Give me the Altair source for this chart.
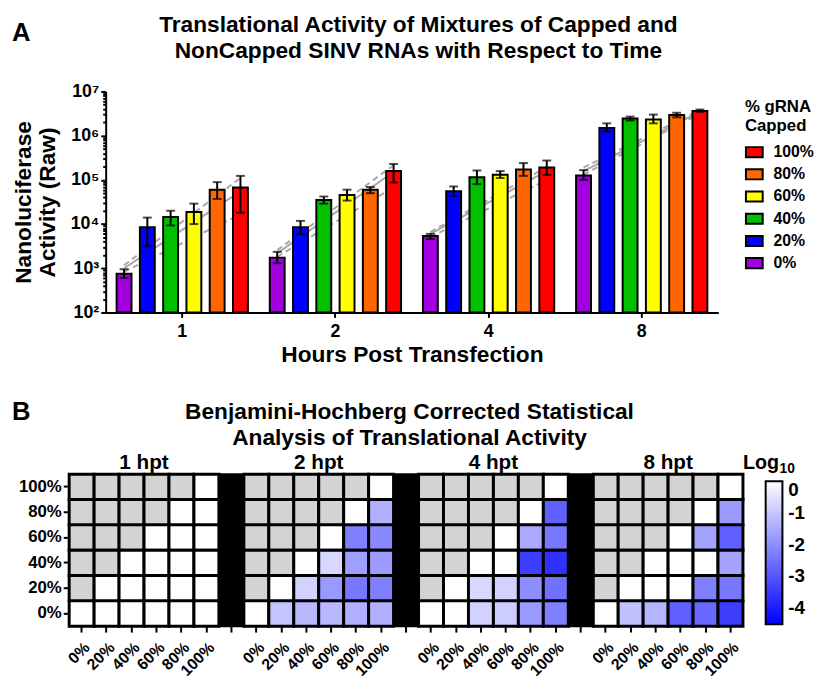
import altair as alt
import pandas as pd

FONT = "Liberation Sans"

# ---------------- data: panel A ----------------
hours = ["1", "2", "4", "8"]
capped = ["0%", "20%", "40%", "60%", "80%", "100%"]
bar_colors = ["#a300e0", "#0000ff", "#00c000", "#ffff00", "#ff6600", "#ff0000"]

mean_1h = [750, 8500, 14500, 18700, 60000, 67000]
lo_1h = [600, 3100, 9300, 10000, 37000, 18000]
hi_1h = [950, 14000, 20000, 29000, 89000, 123000]

mean_2h = [1740, 8500, 35000, 45500, 60000, 158000]
lo_2h = [1300, 5900, 29000, 34000, 50000, 87000]
hi_2h = [2350, 11800, 42000, 60000, 69000, 229000]

mean_4h = [5400, 55000, 115000, 131000, 172000, 191000]
lo_4h = [4600, 43000, 80000, 110000, 123000, 129000]
hi_4h = [6000, 71000, 163000, 158000, 240000, 274000]

mean_8h = [126000, 1500000, 2450000, 2330000, 2950000, 3600000]
lo_8h = [100000, 1230000, 2200000, 1900000, 2600000, 3450000]
hi_8h = [166000, 1900000, 2700000, 3000000, 3300000, 3900000]

# fitted trend (solid) and its band (dashed), value at 0% and at 100%
fit_start = [1000, 2190, 6000, 158000]
fit_end = [55000, 151000, 158000, 3470000]
band_hi_start = [1170, 2570, 6600, 190000]
band_hi_end = [110000, 214000, 195000, 3800000]
band_lo_start = [830, 1820, 5100, 132000]
band_lo_end = [16600, 67600, 100000, 3160000]

title_a = ["Translational Activity of Mixtures of Capped and",
           "NonCapped SINV RNAs with Respect to Time"]

# ---------------- data: panel B (log10 adjusted p), None = not tested ----------------
rows_top_down = ["100%", "80%", "60%", "40%", "20%", "0%"]
N = None
hm_1h = [
    [N, N, N, N, N, 0],
    [N, N, N, N, 0, 0],
    [N, N, N, 0, 0, 0],
    [N, N, 0, 0, 0, 0],
    [N, 0, 0, 0, 0, 0],
    [0, 0, 0, 0, 0, 0],
]
hm_2h = [
    [N, N, N, N, N, 0],
    [N, N, N, N, 0, -1.4],
    [N, N, N, 0, -2.25, -2.1],
    [N, N, 0, -0.7, -1.7, -1.75],
    [N, 0, -0.8, -1.8, -2.4, -2.25],
    [0, -1.05, -1.25, -1.25, -1.4, -1.4],
]
hm_4h = [
    [N, N, N, N, N, 0],
    [N, N, N, N, 0, -2.8],
    [N, N, N, 0, -1.5, -2.4],
    [N, N, 0, 0, -3.4, -3.65],
    [N, 0, -0.7, -0.8, -2.0, -2.5],
    [0, 0, -0.8, -0.9, -1.8, -2.25],
]
hm_8h = [
    [N, N, N, N, N, 0],
    [N, N, N, N, 0, -1.75],
    [N, N, N, 0, -1.6, -2.8],
    [N, N, 0, 0, 0, -1.6],
    [N, 0, 0, 0, -2.25, -2.4],
    [0, -1.1, -1.3, -2.8, -2.65, -3.4],
]
hpt_labels = ["1 hpt", "2 hpt", "4 hpt", "8 hpt"]
title_b = ["Benjamini-Hochberg Corrected Statistical", "Analysis of Translational Activity"]

# ---------------- tables ----------------
means = [mean_1h, mean_2h, mean_4h, mean_8h]
los = [lo_1h, lo_2h, lo_4h, lo_8h]
his = [hi_1h, hi_2h, hi_4h, hi_8h]
bars = pd.DataFrame([
    dict(hour=h, capped=c, value=means[i][j], lo=los[i][j], hi=his[i][j])
    for i, h in enumerate(hours) for j, c in enumerate(capped)
])

line_rows = []
for i, h in enumerate(hours):
    for kind, s, e in [("fit", fit_start, fit_end), ("hi", band_hi_start, band_hi_end),
                       ("lo", band_lo_start, band_lo_end)]:
        line_rows.append(dict(hour=h, capped="0%", kind=kind, value=s[i]))
        line_rows.append(dict(hour=h, capped="100%", kind=kind, value=e[i]))
lines = pd.DataFrame(line_rows)

col_keys = []
for i, h in enumerate(hours):
    if i > 0:
        col_keys.append(f"sep{h}|")
    for c in capped:
        col_keys.append(f"{h}|{c}")
sep_keys = [k for k in col_keys if k.startswith("sep")]

hm_rows = []
for h, mat in zip(hours, [hm_1h, hm_2h, hm_4h, hm_8h]):
    for r, rl in enumerate(rows_top_down):
        for ci, c in enumerate(capped):
            v = mat[r][ci]
            hm_rows.append(dict(key=f"{h}|{c}", row=rl, value=v, gray=v is None))
hm = pd.DataFrame(hm_rows)
seps = pd.DataFrame({"key": sep_keys})
panel_lab = pd.DataFrame({"key": [f"{h}|40%" for h in hours], "label": hpt_labels})


def text_layer(txt, x, y, size, align="center", baseline="middle"):
    return alt.Chart(pd.DataFrame({"t": [txt]})).mark_text(
        fontSize=size, fontWeight="bold", align=align, baseline=baseline, color="black"
    ).encode(x=alt.value(x), y=alt.value(y), text="t:N")


# ---------------- panel A ----------------
TW, TH = 658, 224
x_enc = alt.X("hour:N", sort=hours,
              scale=alt.Scale(domain=hours, range=[37, TW], paddingInner=0, paddingOuter=0),
              axis=alt.Axis(title="Hours Post Transfection", labelAngle=0, labelFontSize=18,
                            labelFontWeight="bold", titleFontSize=23, titleFontWeight="bold",
                            tickSize=5, tickWidth=2, tickColor="black", domainColor="black",
                            domainWidth=2, labelPadding=5, titlePadding=4, labelColor="black",
                            titleColor="black"))
xo = alt.XOffset("capped:N", sort=capped,
                 scale=alt.Scale(domain=capped, paddingInner=0.36, paddingOuter=0.47))

major = [10 ** e for e in range(2, 8)]
minor = [k * 10 ** e for e in range(2, 7) for k in range(2, 10)]
is_major = "abs(log(datum.value)/LN10 - round(log(datum.value)/LN10)) < 0.01"
y_axis = alt.Axis(
    values=sorted(major + minor),
    labelExpr=is_major + " ? '10' + ['⁰','¹','²','³','⁴','⁵','⁶','⁷'][round(log(datum.value)/LN10)] : ''",
    tickSize={"condition": {"test": is_major, "value": 5}, "value": 3},
    tickWidth=2, tickColor="black", domainColor="black", domainWidth=2,
    offset=-37, grid=False, labelFontSize=18, labelFontWeight="bold", labelPadding=2,
    title=["Nanoluciferase", "Activity (Raw)"], titleFontSize=23, titleFontWeight="bold",
    titleLineHeight=24, titlePadding=11, labelColor="black", titleColor="black",
    labelOverlap=False,
)
y_scale = alt.Scale(type="log", domain=[100, 1e7])

trend = alt.Chart(lines).mark_line(strokeWidth=2, color="#a8a8a8").encode(
    x=x_enc, xOffset=xo,
    y=alt.Y("value:Q", scale=y_scale, axis=y_axis, stack=None),
    detail="hour:N",
    strokeDash=alt.StrokeDash("kind:N", scale=alt.Scale(domain=["fit", "hi", "lo"],
                              range=[[1, 0], [6, 4], [6, 4]]), legend=None),
)
bar = alt.Chart(bars).mark_bar(stroke="black", strokeWidth=2).encode(
    x=x_enc, xOffset=xo,
    y=alt.Y("value:Q", scale=y_scale, axis=y_axis, stack=None),
    y2=alt.value(TH),
    color=alt.Color("capped:N", scale=alt.Scale(domain=capped[::-1], range=bar_colors[::-1]),
                    legend=alt.Legend(title=["% gRNA", "Capped"], orient="none", legendX=685,
                                      legendY=8, symbolType="M-1,-0.6H1V0.6H-1Z", symbolSize=289,
                                      symbolStrokeColor="black", symbolStrokeWidth=2,
                                      symbolOpacity=1, labelFontSize=16, labelFontWeight="bold",
                                      titleFontSize=17, titleFontWeight="bold", titlePadding=8,
                                      labelOffset=10, rowPadding=3.5, labelColor="black",
                                      titleColor="black", titleLimit=200)),
)
err = alt.Chart(bars).mark_rule(color="black", strokeWidth=2).encode(
    x=x_enc, xOffset=xo, y=alt.Y("lo:Q", scale=y_scale, axis=y_axis), y2="hi:Q")
cap_lo = alt.Chart(bars).mark_tick(color="black", thickness=2, size=9).encode(
    x=x_enc, xOffset=xo, y=alt.Y("lo:Q", scale=y_scale, axis=y_axis, stack=None))
cap_hi = alt.Chart(bars).mark_tick(color="black", thickness=2, size=9).encode(
    x=x_enc, xOffset=xo, y=alt.Y("hi:Q", scale=y_scale, axis=y_axis, stack=None))

top = alt.layer(
    trend, bar, err, cap_lo, cap_hi,
    text_layer("A", -58, -59, 26, align="left"),
    text_layer(title_a[0], 354, -67, 23),
    text_layer(title_a[1], 354, -41, 23),
).properties(width=TW, height=TH)

# ---------------- panel B ----------------
HW, HH = 683, 154
hx = alt.X("key:N", sort=col_keys, scale=alt.Scale(domain=col_keys, paddingInner=0, paddingOuter=0),
           axis=alt.Axis(title=None, labelExpr="split(datum.value, '|')[1]", labelAngle=-45,
                         labelFontSize=16, labelFontWeight="bold", labelColor="black",
                         tickSize=6, tickWidth=2, tickColor="black", domain=False,
                         labelPadding=7, labelOverlap=False))
hy = alt.Y("row:N", sort=rows_top_down,
           scale=alt.Scale(domain=rows_top_down, paddingInner=0, paddingOuter=0),
           axis=alt.Axis(title=None, labelFontSize=17, labelFontWeight="bold", labelColor="black",
                         tickSize=6, tickWidth=2, tickColor="black", domain=False, labelPadding=2))

gray_cells = alt.Chart(hm).transform_filter("datum.gray").mark_rect(
    fill="#d3d3d3", stroke="black", strokeWidth=3).encode(x=hx, y=hy)
val_cells = alt.Chart(hm).transform_filter("!datum.gray").mark_rect(
    stroke="black", strokeWidth=3).encode(
    x=hx, y=hy,
    color=alt.Color("value:Q",
                    scale=alt.Scale(domain=[-4.5, 0], range=["#0000ff", "#ffffff"], interpolate="rgb"),
                    legend=alt.Legend(title=None, orient="none", legendX=706, legendY=7,
                                      direction="vertical", gradientLength=145,
                                      gradientThickness=17, gradientStrokeColor="black",
                                      gradientStrokeWidth=2, values=[0, -1, -2, -3, -4],
                                      labelExpr="(datum.value < 0 ? '-' : '') + abs(datum.value)",
                                      labelFontSize=19, labelFontWeight="bold", labelColor="black",
                                      labelOffset=6, labelOverlap=False)),
)
sep_cells = alt.Chart(seps).mark_rect(fill="black", stroke="black", strokeWidth=2).encode(
    x=hx, y=alt.value(0), y2=alt.value(HH))
panel_text = alt.Chart(panel_lab).mark_text(
    fontSize=21, fontWeight="bold", baseline="middle", color="black").encode(
    x=alt.X("key:N", sort=col_keys, bandPosition=1,
            scale=alt.Scale(domain=col_keys, paddingInner=0, paddingOuter=0)),
    y=alt.value(-11), text="label:N")

bottom = alt.layer(
    gray_cells, val_cells, sep_cells, panel_text,
    text_layer("B", -58, -63, 26, align="left"),
    text_layer(title_b[0], 345, -63, 23),
    text_layer(title_b[1], 345, -37, 23),
    text_layer("Log", 683, -11, 20, align="left"),
    text_layer("10", 720, -5, 14, align="left"),
).properties(width=HW, height=HH)

chart = alt.vconcat(top, bottom, spacing=33).resolve_scale(
    color="independent", x="independent", y="independent"
).properties(padding={"left": 4, "top": 2, "right": 0, "bottom": 0}).configure(
    font=FONT
).configure_view(stroke=None)

chart.save("out.html", embed_options={"renderer": "svg", "actions": False})
